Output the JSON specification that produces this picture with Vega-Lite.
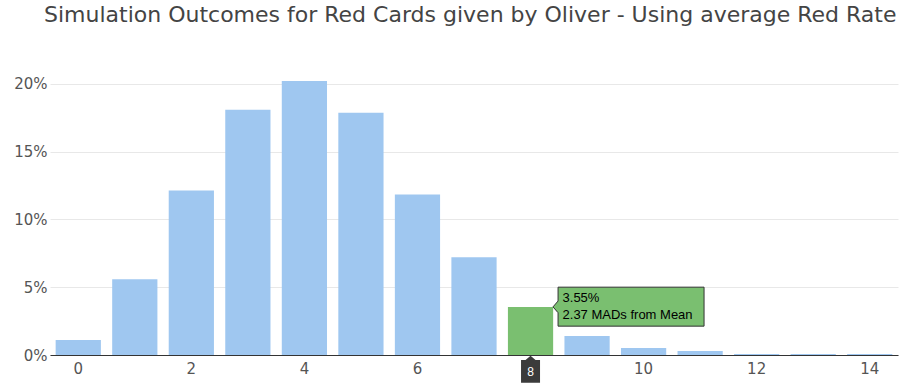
{
  "$schema": "https://vega.github.io/schema/vega-lite/v6.json",
  "autosize": {"type": "none"},
  "width": 848,
  "height": 305,
  "padding": {"left": 50, "top": 50, "right": 12, "bottom": 32},
  "background": "white",
  "config": {
    "view": {"stroke": null},
    "font": "DejaVu Sans"
  },
  "title": {
    "text": "Simulation Outcomes for Red Cards given by Oliver - Using average Red Rate",
    "anchor": "start",
    "frame": "group",
    "dx": -6,
    "offset": 23,
    "fontSize": 22,
    "fontWeight": "normal",
    "color": "#444444",
    "font": "DejaVu Sans"
  },
  "datasets": {
    "sim": [
      {"k": 0, "p": 0.0110},
      {"k": 1, "p": 0.0559},
      {"k": 2, "p": 0.1213},
      {"k": 3, "p": 0.1809},
      {"k": 4, "p": 0.2022},
      {"k": 5, "p": 0.1787},
      {"k": 6, "p": 0.1184},
      {"k": 7, "p": 0.0721},
      {"k": 8, "p": 0.0355},
      {"k": 9, "p": 0.0140},
      {"k": 10, "p": 0.0051},
      {"k": 11, "p": 0.0029},
      {"k": 12, "p": 0.0007},
      {"k": 13, "p": 0.0007},
      {"k": 14, "p": 0.0007}
    ],
    "note": [
      {"k": 8, "p": 0.0355, "label": "3.55%\n2.37 MADs from Mean", "axisLabel": "8", "zero": 0}
    ]
  },
  "layer": [
    {
      "data": {"name": "sim"},
      "mark": {"type": "bar"},
      "encoding": {
        "x": {
          "field": "k", "type": "ordinal",
          "scale": {"paddingInner": 0.2, "paddingOuter": 0.1},
          "axis": {
            "title": null, "labelAngle": 0, "ticks": false,
            "labelExpr": "(datum.value % 2 == 0 && datum.value != 8) ? datum.label : ''",
            "labelFontSize": 15, "labelColor": "#555555", "labelPadding": 6,
            "domainColor": "#333333", "domainWidth": 1, "grid": false,
            "labelFont": "DejaVu Sans"
          }
        },
        "y": {
          "field": "p", "type": "quantitative",
          "scale": {"domain": [0, 0.225], "nice": false},
          "axis": {
            "title": null, "format": ".0%", "values": [0, 0.05, 0.1, 0.15, 0.2],
            "ticks": false, "domain": false, "labelFontSize": 15,
            "labelColor": "#555555", "labelPadding": 3,
            "gridColor": "#e8e8e8", "gridWidth": 1, "labelFont": "DejaVu Sans"
          }
        },
        "color": {
          "condition": {"test": "datum.k == 8", "value": "#7abf70"},
          "value": "#9fc7f0"
        }
      }
    },
    {
      "data": {"name": "note"},
      "mark": {
        "type": "point", "filled": true, "opacity": 1,
        "shape": "M0.308,0 L0.377,-0.08 L0.377,-0.27 L2.377,-0.27 L2.377,0.264 L0.377,0.264 L0.377,0.08 Z",
        "size": 21316, "fill": "#7abf70", "stroke": "#333333", "strokeWidth": 1
      },
      "encoding": {
        "x": {"field": "k", "type": "ordinal"},
        "y": {"field": "p", "type": "quantitative"}
      }
    },
    {
      "data": {"name": "note"},
      "mark": {
        "type": "text", "align": "left", "baseline": "middle", "dx": 32, "dy": -9,
        "lineBreak": "\n", "lineHeight": 17, "fontSize": 13, "font": "Liberation Sans", "color": "#000000"
      },
      "encoding": {
        "x": {"field": "k", "type": "ordinal"},
        "y": {"field": "p", "type": "quantitative"},
        "text": {"field": "label"}
      }
    },
    {
      "data": {"name": "note"},
      "mark": {
        "type": "point", "filled": true, "opacity": 1,
        "shape": "M0,0.07 L0.5,0.5 L0.95,0.5 L0.95,2.77 L-0.95,2.77 L-0.95,0.5 L-0.5,0.5 Z",
        "size": 400, "fill": "#3b3b3b", "strokeWidth": 0
      },
      "encoding": {
        "x": {"field": "k", "type": "ordinal"},
        "y": {"field": "zero", "type": "quantitative"}
      }
    },
    {
      "data": {"name": "note"},
      "mark": {
        "type": "text", "align": "center", "baseline": "middle", "dy": 17,
        "fontSize": 12, "font": "Liberation Sans", "color": "white"
      },
      "encoding": {
        "x": {"field": "k", "type": "ordinal"},
        "y": {"field": "zero", "type": "quantitative"},
        "text": {"field": "axisLabel"}
      }
    }
  ]
}
